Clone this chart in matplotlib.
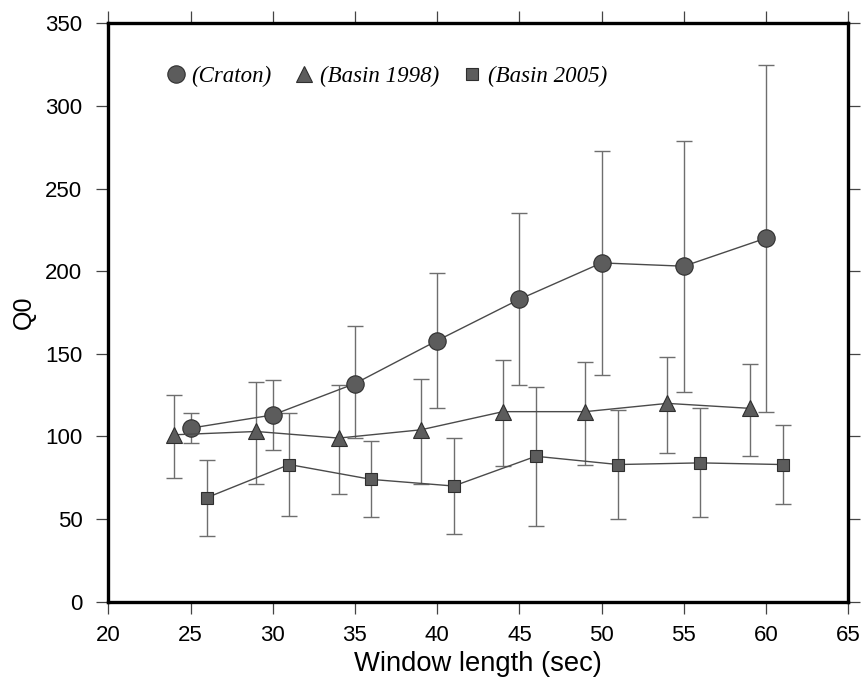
import matplotlib.pyplot as plt
import numpy as np

# window lengths (s) for each data set, offset so the error bars don't overlap
x_craton = [25, 30, 35, 40, 45, 50, 55, 60]
x_b1998 = [24, 29, 34, 39, 44, 49, 54, 59]
x_b2005 = [26, 31, 36, 41, 46, 51, 56, 61]

# Q0 estimates with lower / upper bounds
q_craton = [105, 113, 132, 158, 183, 205, 203, 220]
lo_craton = [96, 92, 99, 117, 131, 137, 127, 115]
hi_craton = [114, 134, 167, 199, 235, 273, 279, 325]

q_b1998 = [101, 103, 99, 104, 115, 115, 120, 117]
lo_b1998 = [75, 71, 65, 71, 82, 83, 90, 88]
hi_b1998 = [125, 133, 131, 135, 146, 145, 148, 144]

q_b2005 = [63, 83, 74, 70, 88, 83, 84, 83]
lo_b2005 = [40, 52, 51, 41, 46, 50, 51, 59]
hi_b2005 = [86, 114, 97, 99, 130, 116, 117, 107]

plt.rcParams['font.family'] = ['Liberation Sans', 'DejaVu Sans']

fig = plt.figure(figsize=(8.63, 6.84), dpi=100)
ax = fig.add_axes([0.1255, 0.1203, 0.8575, 0.8457])

sets = [
    (x_craton, q_craton, lo_craton, hi_craton, 'o', 12.5, '(Craton)'),
    (x_b1998, q_b1998, lo_b1998, hi_b1998, '^', 11, '(Basin 1998)'),
    (x_b2005, q_b2005, lo_b2005, hi_b2005, 's', 9, '(Basin 2005)'),
]

for x, q, lo, hi, mk, ms, lab in sets:
    q = np.array(q)
    yerr = [q - np.array(lo), np.array(hi) - q]
    ax.errorbar(x, q, yerr=yerr, fmt='none', ecolor='#6e6e6e', elinewidth=1.0,
                capsize=6, capthick=1.0, zorder=2)
    ax.plot(x, q, color='#4a4a4a', linewidth=1.0, marker=mk, markersize=ms,
            markerfacecolor='#5c5c5c', markeredgecolor='#2e2e2e',
            markeredgewidth=0.8, label=lab, zorder=3)

ax.set_xlim(20, 65)
ax.set_ylim(0, 350)
ax.set_xticks(np.arange(20, 66, 5))
ax.set_yticks(np.arange(0, 351, 50))

ax.tick_params(direction='out', length=8.6, width=0.9, color='#444444',
               labelsize=16, top=True, right=True)
ax.tick_params(axis='x', pad=8.5)
ax.tick_params(axis='y', pad=10)
for s in ax.spines.values():
    s.set_linewidth(2.4)

ax.set_xlabel('Window length (sec)', fontsize=19.7, labelpad=3)
ax.set_ylabel('Q0', fontsize=18, labelpad=7)

ax.legend(loc='upper left', bbox_to_anchor=(0.049, 0.962), ncol=3, frameon=False,
          handlelength=0.9, handletextpad=0.22, columnspacing=1.0,
          prop={'family': 'Liberation Serif', 'style': 'italic', 'size': 16.5})
# keep legend markers only, no line through them
for h in ax.get_legend().legend_handles:
    h.set_linestyle('none')

plt.savefig('out.png', dpi=100)
